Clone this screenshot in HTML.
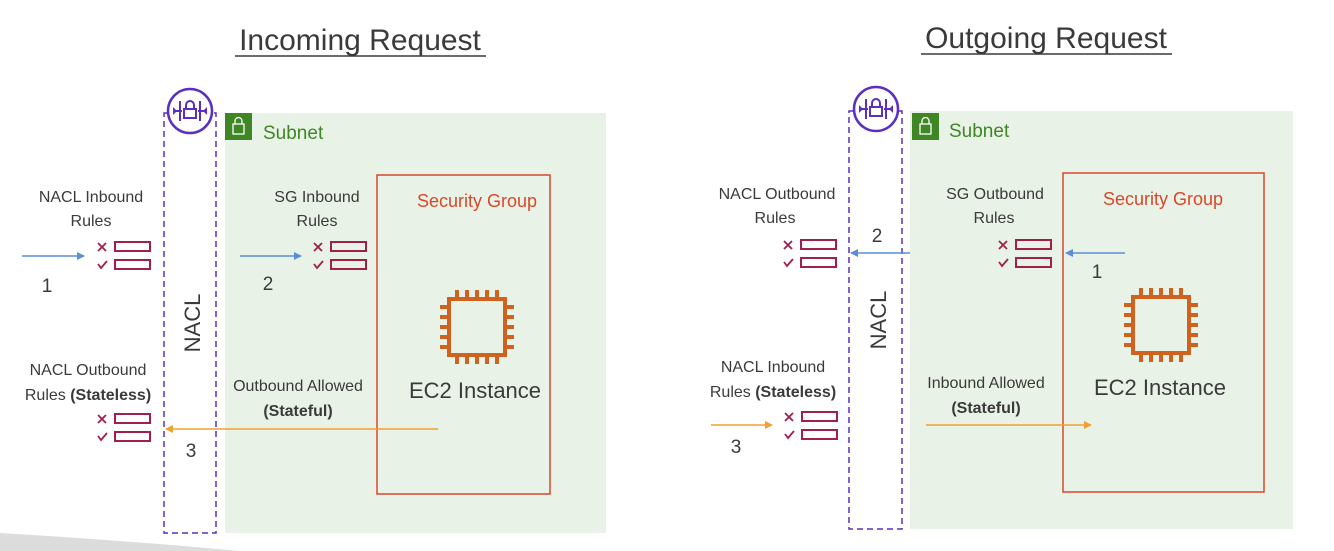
<!DOCTYPE html>
<html><head><meta charset="utf-8"><style>
html,body{margin:0;padding:0;background:#fff}
svg{display:block}
text{font-family:"Liberation Sans",sans-serif;fill:#3a3a3a}
</style></head><body>
<svg width="1334" height="551" viewBox="0 0 1334 551" xmlns="http://www.w3.org/2000/svg">
<defs>
<marker id="ab" markerWidth="8" markerHeight="8" refX="7" refY="4" orient="auto" markerUnits="userSpaceOnUse"><path d="M0,0 L8,4 L0,8 z" fill="#5a8fd6"/></marker>
<marker id="ao" markerWidth="8" markerHeight="8" refX="7" refY="4" orient="auto" markerUnits="userSpaceOnUse"><path d="M0,0 L8,4 L0,8 z" fill="#f0a030"/></marker>
<g id="rules">
<path d="M0,-1 l8,8 M8,-1 l-8,8" stroke="#a0204a" stroke-width="1.8"/>
<rect x="17" y="-2" width="35" height="9" fill="none" stroke="#a0204a" stroke-width="2"/>
<path d="M0,20 l3,4 l6,-7" fill="none" stroke="#a0204a" stroke-width="1.8"/>
<rect x="17" y="16" width="35" height="9" fill="none" stroke="#a0204a" stroke-width="2"/>
</g>
<g id="chip" fill="none" stroke="#d0621f" stroke-width="4">
<rect x="-28" y="-28" width="56" height="56"/>
<path d="M-20,-28v-9M-10,-28v-9M0,-28v-9M10,-28v-9M20,-28v-9 M-20,28v9M-10,28v9M0,28v9M10,28v9M20,28v9 M-28,-20h-9M-28,-10h-9M-28,0h-9M-28,10h-9M-28,20h-9 M28,-20h9M28,-10h9M28,0h9M28,10h9M28,20h9"/>
</g>
<g id="nacli">
<circle cx="0" cy="0" r="22" fill="#fff" stroke="#5a2fc2" stroke-width="2.5"/>
<path d="M-14,0h6M8,0h6 M-10,-10v20M10,-10v20" stroke="#5a2fc2" stroke-width="2"/>
<path d="M-17,-4l4,4l-4,4z M17,-4l-4,4l4,4z" fill="#5a2fc2"/>
<rect x="-6" y="-2" width="12" height="9" fill="none" stroke="#5a2fc2" stroke-width="2"/>
<path d="M-4,-2v-4a4,4 0 0 1 8,0v4" fill="none" stroke="#5a2fc2" stroke-width="2"/>
</g>
<g id="lock">
<rect x="0" y="0" width="27" height="27" fill="#3f8624"/>
<rect x="8" y="11" width="11" height="10" fill="none" stroke="#fff" stroke-width="1.3"/>
<path d="M10,11v-3a3.5,3.5 0 0 1 7,0v3" fill="none" stroke="#fff" stroke-width="1.3"/>
</g>
</defs>

<path d="M0,533 L0,551 L240,551 Q120,540 0,533z" fill="#dcdcdc"/>

<!-- LEFT -->
<text x="360" y="50" font-size="30" text-anchor="middle">Incoming Request</text>
<line x1="235" y1="56" x2="486" y2="56" stroke="#3a3a3a" stroke-width="1.5"/>
<rect x="225" y="113" width="381" height="420" fill="#e9f2e6"/>
<use href="#lock" x="225" y="113"/>
<text x="263" y="139" font-size="19" style="fill:#3f8624">Subnet</text>
<rect x="164" y="113" width="52" height="420" fill="none" stroke="#5a2fc2" stroke-width="1.5" stroke-dasharray="6,4"/>
<use href="#nacli" x="190" y="111"/>
<text transform="translate(200,323) rotate(-90)" font-size="22" text-anchor="middle">NACL</text>
<rect x="377" y="175" width="173" height="319" fill="none" stroke="#d9472b" stroke-width="1.5"/>
<text x="477" y="207" font-size="18" text-anchor="middle" style="fill:#d9472b">Security Group</text>
<use href="#chip" x="477" y="327"/>
<text x="475" y="398" font-size="22" text-anchor="middle">EC2 Instance</text>
<text x="91" y="202" font-size="16" text-anchor="middle">NACL Inbound</text>
<text x="91" y="226" font-size="16" text-anchor="middle">Rules</text>
<use href="#rules" x="98" y="244"/>
<line x1="22" y1="256" x2="84" y2="256" stroke="#5a8fd6" stroke-width="1.5" marker-end="url(#ab)"/>
<text x="47" y="292" font-size="19" text-anchor="middle">1</text>
<text x="317" y="202" font-size="16" text-anchor="middle">SG Inbound</text>
<text x="317" y="226" font-size="16" text-anchor="middle">Rules</text>
<use href="#rules" x="314" y="244"/>
<line x1="240" y1="256" x2="301" y2="256" stroke="#5a8fd6" stroke-width="1.5" marker-end="url(#ab)"/>
<text x="268" y="290" font-size="19" text-anchor="middle">2</text>
<text x="88" y="375" font-size="16" text-anchor="middle">NACL Outbound</text>
<text x="88" y="400" font-size="16" text-anchor="middle">Rules <tspan font-weight="bold">(Stateless)</tspan></text>
<use href="#rules" x="98" y="416"/>
<text x="298" y="391" font-size="16" text-anchor="middle">Outbound Allowed</text>
<text x="298" y="416" font-size="16" text-anchor="middle" font-weight="bold">(Stateful)</text>
<line x1="438" y1="429" x2="166" y2="429" stroke="#f0a030" stroke-width="1.5" marker-end="url(#ao)"/>
<text x="191" y="457" font-size="19" text-anchor="middle">3</text>

<!-- RIGHT -->
<text x="1046" y="48" font-size="30" text-anchor="middle">Outgoing Request</text>
<line x1="921" y1="54" x2="1172" y2="54" stroke="#3a3a3a" stroke-width="1.5"/>
<rect x="910" y="111" width="383" height="418" fill="#e9f2e6"/>
<use href="#lock" x="912" y="113"/>
<text x="949" y="137" font-size="19" style="fill:#3f8624">Subnet</text>
<rect x="849" y="111" width="53" height="418" fill="none" stroke="#5a2fc2" stroke-width="1.5" stroke-dasharray="6,4"/>
<use href="#nacli" x="876" y="109"/>
<text transform="translate(886,320) rotate(-90)" font-size="22" text-anchor="middle">NACL</text>
<rect x="1063" y="173" width="201" height="319" fill="none" stroke="#d9472b" stroke-width="1.5"/>
<text x="1163" y="205" font-size="18" text-anchor="middle" style="fill:#d9472b">Security Group</text>
<use href="#chip" x="1161" y="325"/>
<text x="1160" y="395" font-size="22" text-anchor="middle">EC2 Instance</text>
<text x="777" y="199" font-size="16" text-anchor="middle">NACL Outbound</text>
<text x="775" y="223" font-size="16" text-anchor="middle">Rules</text>
<use href="#rules" x="784" y="242"/>
<line x1="910" y1="253" x2="851" y2="253" stroke="#5a8fd6" stroke-width="1.5" marker-end="url(#ab)"/>
<text x="877" y="242" font-size="19" text-anchor="middle">2</text>
<text x="995" y="199" font-size="16" text-anchor="middle">SG Outbound</text>
<text x="994" y="223" font-size="16" text-anchor="middle">Rules</text>
<use href="#rules" x="999" y="242"/>
<line x1="1125" y1="253" x2="1066" y2="253" stroke="#5a8fd6" stroke-width="1.5" marker-end="url(#ab)"/>
<text x="1097" y="278" font-size="19" text-anchor="middle">1</text>
<text x="773" y="372" font-size="16" text-anchor="middle">NACL Inbound</text>
<text x="773" y="397" font-size="16" text-anchor="middle">Rules <tspan font-weight="bold">(Stateless)</tspan></text>
<use href="#rules" x="785" y="414"/>
<line x1="711" y1="425" x2="772" y2="425" stroke="#f0a030" stroke-width="1.5" marker-end="url(#ao)"/>
<text x="736" y="453" font-size="19" text-anchor="middle">3</text>
<text x="986" y="388" font-size="16" text-anchor="middle">Inbound Allowed</text>
<text x="986" y="413" font-size="16" text-anchor="middle" font-weight="bold">(Stateful)</text>
<line x1="926" y1="425" x2="1091" y2="425" stroke="#f0a030" stroke-width="1.5" marker-end="url(#ao)"/>
</svg>
</body></html>
